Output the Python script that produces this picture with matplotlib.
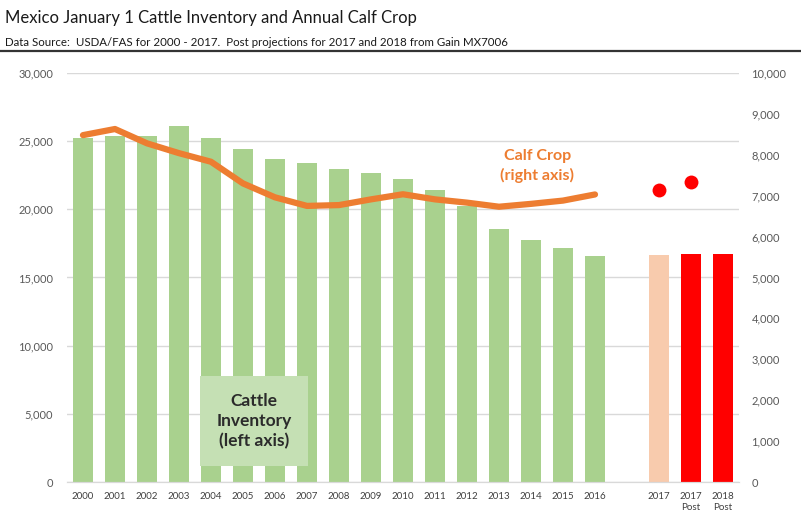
#!/usr/bin/env python

import matplotlib
matplotlib.use('Agg')
import matplotlib.pyplot as plt
from matplotlib.ticker import FuncFormatter, MultipleLocator

plt.rcParams['font.family'] = ['Lato', 'DejaVu Sans']

# category labels (one empty slot between 2016 and 2017)
years = [str(y) for y in range(2000, 2017)]
extra_labels = ['2017', '2017\nPost', '2018\nPost']

# January 1 cattle inventory, 1000 head (left axis)
inventory = [25200, 25350, 25400, 26100, 25250, 24400, 23700, 23400, 22950,
             22700, 22250, 21450, 20250, 18550, 17750, 17150, 16600]
inventory_2017 = 16650
inventory_post = [16700, 16700]

# annual calf crop, 1000 head (right axis)
calf_crop = [8480, 8630, 8280, 8040, 7830, 7300, 6960, 6750, 6770,
             6910, 7035, 6910, 6830, 6730, 6800, 6880, 7030]
calf_post = [7140, 7330]


def thousands(x, pos):
    return '{:,.0f}'.format(x)


def report():
    fig = plt.figure(figsize=(8.01, 5.25), dpi=100)
    ax = fig.add_axes([0.0836, 0.0819, 0.8390, 0.7791])
    ax2 = ax.twinx()

    n = len(years)
    x_hist = list(range(n))
    x_2017 = n + 1
    x_post = [n + 2, n + 3]

    ax.bar(x_hist, inventory, width=0.6, color='#A9D18E', zorder=2)
    ax.bar([x_2017], [inventory_2017], width=0.6, color='#F8CBAD', zorder=2)
    ax.bar(x_post, inventory_post, width=0.6, color='#FF0000', zorder=2)

    ax.set_xlim(-0.5, n + 3.5)
    ax.set_ylim(0, 30000)
    ax.yaxis.set_major_locator(MultipleLocator(5000))
    ax.yaxis.set_major_formatter(FuncFormatter(thousands))
    ax.grid(axis='y', color='#D9D9D9', linewidth=1, zorder=0)
    ax.set_axisbelow(True)

    ax.set_xticks(x_hist + [x_2017] + x_post)
    ax.set_xticklabels(years + extra_labels, fontsize=7, color='#404040',
                       va='top', linespacing=1.3)

    ax2.plot(x_hist, calf_crop, color='#ED7D31', linewidth=4.5,
             solid_capstyle='round', solid_joinstyle='round', zorder=3)
    ax2.plot([x_2017, x_post[0]], calf_post, 'o', color='#FF0000',
             markersize=10, markeredgewidth=0, zorder=4)
    ax2.set_ylim(0, 10000)
    ax2.yaxis.set_major_locator(MultipleLocator(1000))
    ax2.yaxis.set_major_formatter(FuncFormatter(thousands))

    for a in (ax, ax2):
        for s in ('top', 'left', 'right'):
            a.spines[s].set_visible(False)
        a.spines['bottom'].set_color('#D9D9D9')
        a.tick_params(axis='both', length=0, labelsize=8, labelcolor='#595959')
    ax.tick_params(axis='x', labelsize=7, labelcolor='#404040', pad=7)
    ax.tick_params(axis='y', pad=10)
    ax2.tick_params(axis='y', pad=9)

    ax2.text(14.2, 7730, 'Calf Crop\n(right axis)', color='#ED7D31',
             fontsize=11.5, fontweight='bold', ha='center', va='center',
             linespacing=1.4)
    ax.text(5.35, 4480, 'Cattle\nInventory\n(left axis)', color='#2B2B2B',
            fontsize=12.5, fontweight='bold', ha='center', va='center',
            linespacing=1.3, zorder=5,
            bbox=dict(boxstyle='square,pad=0.95', facecolor='#C5E0B4',
                      edgecolor='none'))

    fig.text(0.006, 0.966, 'Mexico January 1 Cattle Inventory and Annual Calf Crop',
             fontsize=12, color='#1A1A1A', va='center', ha='left')
    fig.text(0.006, 0.920, 'Data Source:  USDA/FAS for 2000 - 2017.  '
             'Post projections for 2017 and 2018 from Gain MX7006',
             fontsize=8.3, color='#1A1A1A', va='center', ha='left')
    fig.add_artist(plt.Line2D([0, 1], [0.903, 0.903], color='#333333',
                              linewidth=1.6, transform=fig.transFigure))

    fig.savefig('out.png', dpi=100)


if __name__ == "__main__":
    report()
